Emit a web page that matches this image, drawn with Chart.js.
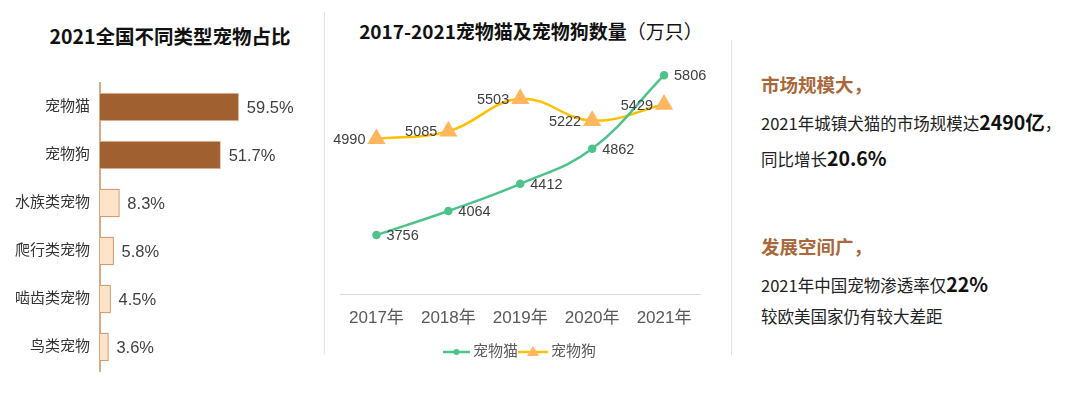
<!DOCTYPE html>
<html>
<head>
<meta charset="utf-8">
<script src="https://cdn.jsdelivr.net/npm/chart.js@4/dist/chart.umd.min.js"></script>
<style>
  body { margin: 0; background: #fff; width: 1080px; height: 396px; overflow: hidden; position: relative;
         font-family: "Noto Sans CJK SC", "Liberation Sans", sans-serif; }
  .abs { position: absolute; }
  .title { font-weight: bold; color: #111; white-space: nowrap; }
  .sep { position: absolute; width: 1px; background: #e3e3e3; }
  .txt { position: absolute; left: 761px; font-size: 16.5px; color: #222; white-space: nowrap; }
  .txt b { font-size: 19.5px; color: #111; }
  .head { position: absolute; left: 761px; font-size: 18.5px; font-weight: bold; color: #A9683B; white-space: nowrap; }
</style>
</head>
<body>
<div class="abs title" style="left:0;width:340px;text-align:center;top:21px;font-size:19.5px;">2021全国不同类型宠物占比</div>
<div class="abs title" style="left:336px;width:390px;text-align:center;top:17px;font-size:19px;">2017-2021宠物猫及宠物狗数量<span style="font-weight:normal">（万只）</span></div>
<div class="sep" style="left:324px;top:12px;height:342px;"></div>
<div class="sep" style="left:731px;top:40px;height:315px;"></div>

<canvas id="bars" class="abs" style="left:0;top:0;" width="320" height="396"></canvas>
<canvas id="lines" class="abs" style="left:330px;top:0;" width="390" height="396"></canvas>

<div class="head" style="top:71px;">市场规模大，</div>
<div class="txt" style="top:107px;">2021年城镇犬猫的市场规模达<b>2490亿</b>，</div>
<div class="txt" style="top:143px;">同比增长<b>20.6%</b></div>
<div class="head" style="top:233px;">发展空间广，</div>
<div class="txt" style="top:269px;">2021年中国宠物渗透率仅<b>22%</b></div>
<div class="txt" style="top:304px;">较欧美国家仍有较大差距</div>

<script>
const petTypes = ["宠物猫", "宠物狗", "水族类宠物", "爬行类宠物", "啮齿类宠物", "鸟类宠物"];
const petShare = [59.5, 51.7, 8.3, 5.8, 4.5, 3.6];

const years = ["2017年", "2018年", "2019年", "2020年", "2021年"];
const catCount = [3756, 4064, 4412, 4862, 5806];
const dogCount = [4990, 5085, 5503, 5222, 5429];

const numFont = '"Liberation Sans", "Noto Sans CJK SC", sans-serif';

// value labels drawn next to each mark
const valueLabels = {
  id: "valueLabels",
  afterDatasetsDraw(chart, args, opts) {
    const ctx = chart.ctx;
    ctx.save();
    ctx.fillStyle = "#404040";
    ctx.textBaseline = "middle";
    chart.data.datasets.forEach((ds, i) => {
      const meta = chart.getDatasetMeta(i);
      const o = opts.pos[i];
      ctx.font = opts.size + "px " + numFont;
      ctx.textAlign = o.align;
      meta.data.forEach((el, j) => {
        const txt = ds.data[j] + (opts.suffix || "");
        ctx.fillText(txt, el.x + o.dx, el.y + o.dy);
      });
    });
    ctx.restore();
  }
};

new Chart(document.getElementById("bars"), {
  type: "bar",
  data: {
    labels: petTypes,
    datasets: [{
      data: petShare,
      backgroundColor: petShare.map((v, i) => i < 2 ? "#A0602F" : "#FDE3C8"),
      borderColor: petShare.map((v, i) => i < 2 ? "#E8C9AE" : "#C8865A"),
      borderWidth: 1,
      barThickness: 28
    }]
  },
  options: {
    indexAxis: "y",
    responsive: false,
    animation: false,
    layout: { padding: { top: 83, bottom: 25, right: 10 } },
    plugins: {
      legend: { display: false },
      tooltip: { enabled: false },
      valueLabels: { size: 16.5, suffix: "%", pos: [{ align: "left", dx: 8, dy: 1 }] }
    },
    scales: {
      x: { display: false, min: 0, max: 90 },
      y: {
        afterFit(s) { s.width = 100; },
        grid: { display: false, drawTicks: false },
        border: { display: true, color: "#D8AA86", width: 2 },
        ticks: { color: "#333", padding: 10, font: { size: 15, family: numFont } }
      }
    }
  },
  plugins: [valueLabels]
});

// legend in excel style: short line with the marker on it
const lineLegend = {
  id: "lineLegend",
  afterDraw(chart) {
    const ctx = chart.ctx;
    const y = 352;
    const items = [{ x: 113, w: 27 }, { x: 188, w: 30 }];
    ctx.save();
    ctx.font = "15px " + numFont;
    ctx.textBaseline = "middle";
    chart.data.datasets.forEach((ds, i) => {
      const it = items[i];
      ctx.strokeStyle = ds.borderColor;
      ctx.lineWidth = 2.5;
      ctx.beginPath();
      ctx.moveTo(it.x, y);
      ctx.lineTo(it.x + it.w, y);
      ctx.stroke();
      const cx = it.x + it.w / 2;
      ctx.fillStyle = ds.pointBackgroundColor;
      ctx.beginPath();
      if (ds.pointStyle === "triangle") {
        ctx.moveTo(cx, y - 6);
        ctx.lineTo(cx + 6, y + 4);
        ctx.lineTo(cx - 6, y + 4);
        ctx.closePath();
      } else {
        ctx.arc(cx, y, 3, 0, Math.PI * 2);
      }
      ctx.fill();
      ctx.fillStyle = "#595959";
      ctx.textAlign = "left";
      ctx.fillText(ds.label, it.x + it.w + 3, y);
    });
    ctx.restore();
  }
};

new Chart(document.getElementById("lines"), {
  type: "line",
  data: {
    labels: years,
    datasets: [
      {
        label: "宠物猫",
        data: catCount,
        borderColor: "#4CC38A",
        backgroundColor: "#4CC38A",
        pointBackgroundColor: "#4CC38A",
        pointBorderColor: "#4CC38A",
        pointRadius: 3,
        borderWidth: 2.5,
        tension: 0.4
      },
      {
        label: "宠物狗",
        data: dogCount,
        borderColor: "#FFC000",
        backgroundColor: "#FFB65F",
        pointBackgroundColor: "#FFB65F",
        pointBorderColor: "#FFB65F",
        pointStyle: "triangle",
        pointRadius: 8,
        borderWidth: 2.5,
        tension: 0.4
      }
    ]
  },
  options: {
    responsive: false,
    animation: false,
    layout: { padding: { top: 60, left: 10, right: 20, bottom: 0 } },
    plugins: {
      legend: { display: false },
      tooltip: { enabled: false },
      valueLabels: {
        size: 14.5,
        pos: [{ align: "left", dx: 10, dy: 1 }, { align: "right", dx: -11, dy: 1 }]
      }
    },
    scales: {
      y: { display: false, min: 3000, max: 6000 },
      x: {
        offset: true,
        afterFit(s) { s.height = 102; },
        grid: { display: false, drawTicks: false },
        border: { display: true, color: "#D9D9D9", width: 1 },
        ticks: { color: "#595959", padding: 14, font: { size: 17, family: numFont } }
      }
    }
  },
  plugins: [valueLabels, lineLegend]
});
</script>
</body>
</html>
